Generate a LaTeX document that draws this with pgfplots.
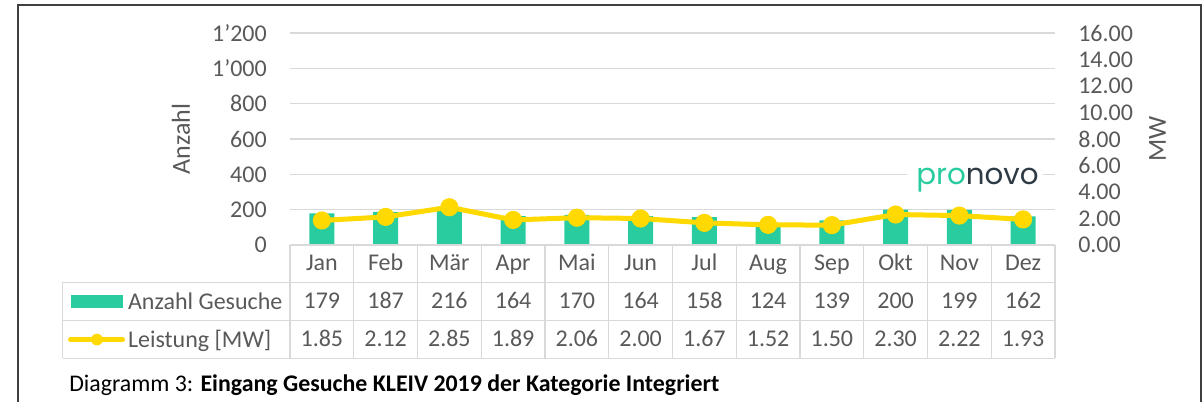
\documentclass[border=0pt]{standalone}
\usepackage{fontspec}
\setmainfont{Carlito}
\newfontfamily\logofont{Poppins}
\usepackage{pgfplots}
\usepackage{pgfplotstable}
\pgfplotsset{compat=1.18}
\pgfkeys{/pgf/number format/assume math mode=true}
\definecolor{bargreen}{HTML}{28CC9E}
\definecolor{lineyellow}{HTML}{FFD900}
\definecolor{txtgray}{HTML}{595959}
\definecolor{gridgray}{HTML}{D9D9D9}
\definecolor{framegray}{HTML}{404040}
\definecolor{logodark}{HTML}{2E3B45}

\pgfplotstableread{
mon n mw
Jan 179 1.85
Feb 187 2.12
Mär 216 2.85
Apr 164 1.89
Mai 170 2.06
Jun 164 2.00
Jul 158 1.67
Aug 124 1.52
Sep 139 1.50
Okt 200 2.30
Nov 199 2.22
Dez 162 1.93
}\gesuche

% invisible box that fixes the size of a legend key (centred on the row)
\newcommand\keybox{\pgfpathrectangle{\pgfpoint{0pt}{-5.8pt}}{\pgfpoint{42.75pt}{11.6pt}}\pgfusepath{}}

\begin{document}
\begin{tikzpicture}
\path[use as bounding box] (0,0) rectangle (902.25pt,301.5pt);
\clip (0,0) rectangle (902.25pt,301.5pt);

% Anzahl (bars, left axis)
\begin{axis}[
  at={(217.5pt,117.75pt)}, anchor=south west,
  scale only axis, width=573.75pt, height=159pt,
  xmin=-0.5, xmax=11.5, ymin=0, ymax=1200,
  ytick={0,200,...,1200}, xtick=\empty,
  ymajorgrids, grid style={gridgray, line width=1pt},
  axis line style={draw=none}, major tick length=0pt,
  ylabel={Anzahl},
  ylabel style={at={(axis description cs:-0.1425,0.5)}, anchor=center,
    font=\fontsize{19.5}{19.5}\selectfont, text=txtgray},
  yticklabel style={anchor=east, inner sep=0pt, xshift=-17.25pt,
    font=\fontsize{18}{18}\selectfont, text=txtgray},
  /pgf/number format/1000 sep={’},
  ybar, bar width=18.75pt, clip=false,
]
\addplot[fill=bargreen, draw=none] table[x expr=\coordindex, y=n] {\gesuche};
\end{axis}

% Leistung (line, right axis)
\begin{axis}[
  at={(217.5pt,117.75pt)}, anchor=south west,
  scale only axis, width=573.75pt, height=159pt,
  xmin=-0.5, xmax=11.5, ymin=0, ymax=16,
  ytick={0,2,...,16}, xtick=\empty,
  axis y line*=right, axis x line=none,
  axis line style={draw=none}, major tick length=0pt,
  ylabel={MW},
  ylabel style={at={(axis description cs:1.134,0.5)}, anchor=center,
    font=\fontsize{19.5}{19.5}\selectfont, text=txtgray},
  yticklabel style={anchor=west, inner sep=0pt, xshift=17.25pt,
    font=\fontsize{18}{18}\selectfont, text=txtgray,
    /pgf/number format/fixed, /pgf/number format/fixed zerofill,
    /pgf/number format/precision=2},
  clip=false,
  legend cell align=left,
  legend style={at={(axis description cs:-0.2902,-0.2292)}, anchor=north west,
    draw=none, fill=none, inner sep=0pt, outer sep=0pt,
    row sep=17.1pt, column sep=2.25pt,
    font=\fontsize{18}{18}\selectfont, text=txtgray,
    nodes={inner sep=0pt, text height=11.6pt, text depth=0pt}},
]
\addlegendimage{legend image code/.code={
  \fill[bargreen, draw=none] (2.25pt,-5.1pt) rectangle (41pt,5.1pt);
  \keybox}}
\addlegendentry{Anzahl Gesuche}
\addplot[lineyellow, line width=3.75pt, mark=*, mark size=4.9pt,
  mark options={fill=lineyellow, draw=none},
  legend image code/.code={
    \draw[lineyellow, line width=3.75pt, line cap=round] (1.9pt,0pt) -- (40.9pt,0pt);
    \fill[lineyellow, draw=none] (21.75pt,0pt) circle (4.4pt);
    \keybox}]
  table[x expr=\coordindex, y=mw] {\gesuche};
\addlegendentry{Leistung [MW]}
\end{axis}

\begin{scope}[shift={(0,301.5pt)}, x=0.75pt, y=-0.75pt,
  every node/.style={font=\fontsize{18}{18}\selectfont, text=txtgray, inner sep=0pt}]
  % table grid
  \draw[gridgray, line width=1.1pt] (290,245) -- (1055,245);
  \foreach \yy in {282.3,320.5,358.3}
    \draw[gridgray, line width=1.1pt] (62.5,\yy) -- (1055,\yy);
  \foreach \k in {0,...,12}
    \draw[gridgray, line width=1.1pt] ({290+63.75*\k},245) -- ({290+63.75*\k},358.3);
  \draw[gridgray, line width=1.1pt] (62.5,282.3) -- (62.5,358.3);
  % table cells
  \foreach \i in {0,...,11}{
    \pgfmathsetmacro\cx{290+63.75*(\i+0.5)}
    \pgfplotstablegetelem{\i}{mon}\of\gesuche
    \node[anchor=base] at (\cx,271) {\pgfplotsretval};
    \pgfplotstablegetelem{\i}{n}\of\gesuche
    \node[anchor=base] at (\cx,309) {\pgfplotsretval};
    \pgfplotstablegetelem{\i}{mw}\of\gesuche
    \node[anchor=base] at (\cx,347) {\pgfmathprintnumber[fixed,fixed zerofill,precision=2]{\pgfplotsretval}};
  }
  % logo
  \fill[white] (907,169) rectangle (1043,181);
  \node[anchor=base, font=\logofont\fontsize{22}{22}\selectfont] at (977.5,185)
    {\textcolor{bargreen}{pro}\textcolor{logodark}{novo}};
  % caption
  \node[anchor=base west, text=black, font=\fontsize{17.9}{17.9}\selectfont] at (69,392)
    {Diagramm 3: \textbf{Eingang Gesuche KLEIV 2019 der Kategorie Integriert}};
  % frame
  \draw[framegray, line width=1.5pt] (18,5) rectangle (1201.3,440);
\end{scope}
\end{tikzpicture}
\end{document}
